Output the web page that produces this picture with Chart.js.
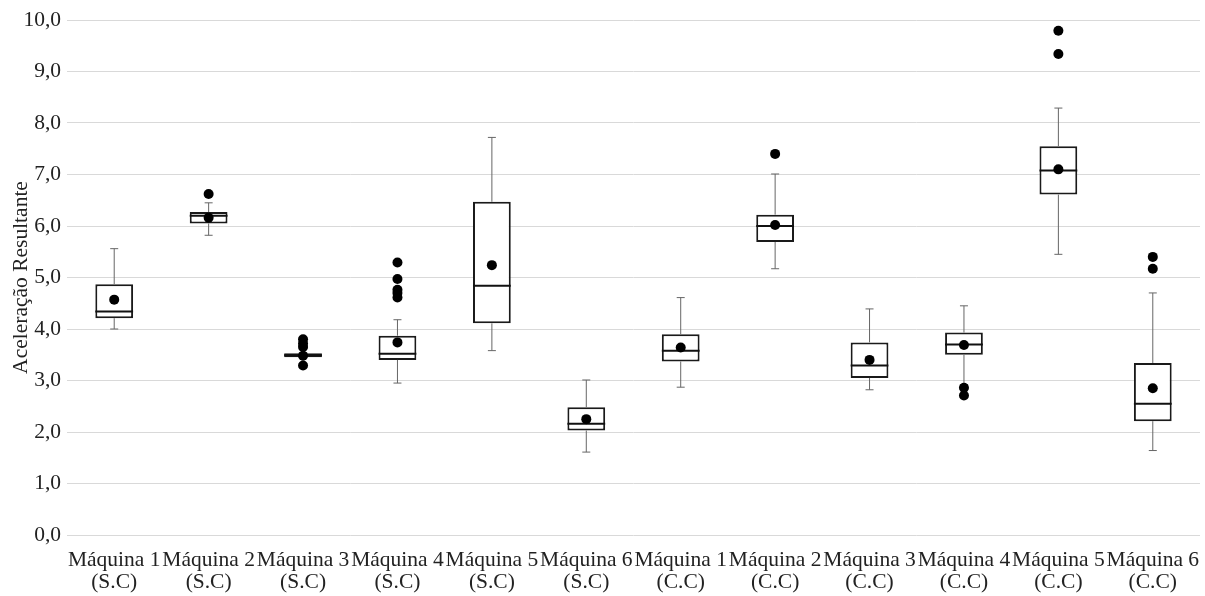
<!DOCTYPE html>
<html>
<head>
<meta charset="utf-8">
<script src="https://cdn.jsdelivr.net/npm/chart.js@4.4.1/dist/chart.umd.min.js"></script>
<style>
  html, body { margin: 0; padding: 0; background: #fff; }
  #wrap { width: 1205px; height: 596px; }
</style>
</head>
<body>
<div id="wrap"><canvas id="chart"></canvas></div>
<script>
// Categories
const machines = ["Máquina 1", "Máquina 2", "Máquina 3", "Máquina 4", "Máquina 5", "Máquina 6"];
const groups = ["(S.C)", "(C.C)"];
const labels = groups.flatMap(g => machines.map(m => [m, g]));

// Box plot values per category
const whiskerMin = [4.00, 5.82, 3.44, 2.95, 3.58, 1.61, 2.87, 5.17, 2.82, 2.92, 5.45, 1.64];
const q1         = [4.21, 6.05, 3.45, 3.40, 4.11, 2.03, 3.37, 5.69, 3.05, 3.50, 6.61, 2.21];
const median     = [4.34, 6.20, 3.49, 3.52, 4.84, 2.16, 3.58, 6.00, 3.29, 3.70, 7.08, 2.55];
const q3         = [4.87, 6.27, 3.53, 3.87, 6.47, 2.48, 3.90, 6.22, 3.74, 3.93, 7.55, 3.34];
const whiskerMax = [5.56, 6.45, 3.54, 4.18, 7.72, 3.01, 4.61, 7.01, 4.39, 4.45, 8.29, 4.70];
const mean       = [4.57, 6.16, 3.48, 3.74, 5.24, 2.25, 3.64, 6.02, 3.40, 3.69, 7.10, 2.85];
const outliers = [
  [], [6.62], [3.80, 3.72, 3.65, 3.29], [5.29, 4.97, 4.76, 4.70, 4.61], [], [],
  [], [7.40], [], [2.86, 2.71], [9.79, 9.34], [5.40, 5.17]
];

// Y axis ticks
const yTicks = [0, 1, 2, 3, 4, 5, 6, 7, 8, 9, 10];

Chart.defaults.font.family = "'Liberation Serif', 'Times New Roman', serif";
Chart.defaults.color = "#222";

// whiskers + median drawn right after the boxes
const whiskerPlugin = {
  id: "whiskers",
  afterDatasetDraw(chart, args) {
    if (args.index !== 0) return;
    const ctx = chart.ctx;
    const y = chart.scales.y;
    const meta = chart.getDatasetMeta(0);
    ctx.save();
    meta.data.forEach((bar, i) => {
      const cx = bar.x;
      const half = bar.width / 2;
      const yMin = y.getPixelForValue(whiskerMin[i]);
      const yMax = y.getPixelForValue(whiskerMax[i]);
      const yQ1 = y.getPixelForValue(q1[i]);
      const yQ3 = y.getPixelForValue(q3[i]);
      ctx.strokeStyle = "#666";
      ctx.lineWidth = 1;
      ctx.beginPath();
      ctx.moveTo(cx, yQ3); ctx.lineTo(cx, yMax);
      ctx.moveTo(cx - 4, yMax); ctx.lineTo(cx + 4, yMax);
      ctx.moveTo(cx, yQ1); ctx.lineTo(cx, yMin);
      ctx.moveTo(cx - 4, yMin); ctx.lineTo(cx + 4, yMin);
      ctx.stroke();
      // median
      const yMed = y.getPixelForValue(median[i]);
      ctx.strokeStyle = "#111";
      ctx.lineWidth = 2;
      ctx.beginPath();
      ctx.moveTo(cx - half, yMed); ctx.lineTo(cx + half, yMed);
      ctx.stroke();
    });
    ctx.restore();
  }
};

const dotStyle = {
  type: "line",
  showLine: false,
  pointRadius: 5,
  pointHoverRadius: 5,
  pointBackgroundColor: "#000",
  pointBorderWidth: 0,
  order: 1
};

const maxOut = Math.max(...outliers.map(o => o.length));
const outlierSets = [];
for (let k = 0; k < maxOut; k++) {
  outlierSets.push({
    ...dotStyle,
    label: "outlier " + (k + 1),
    data: outliers.map(o => (o.length > k ? o[k] : null))
  });
}

new Chart(document.getElementById("chart"), {
  type: "bar",
  data: {
    labels: labels,
    datasets: [
      {
        label: "box",
        data: q1.map((v, i) => [v, q3[i]]),
        backgroundColor: "#fff",
        borderColor: "#1a1a1a",
        borderWidth: 2,
        borderSkipped: false,
        barPercentage: 0.4,
        categoryPercentage: 1,
        order: 3
      },
      { ...dotStyle, label: "média", data: mean },
      ...outlierSets
    ]
  },
  options: {
    responsive: true,
    maintainAspectRatio: false,
    animation: false,
    layout: { padding: { left: 0, right: 3, top: 20, bottom: 0 } },
    plugins: { legend: { display: false }, tooltip: { enabled: false } },
    scales: {
      x: {
        grid: { display: false, drawTicks: false },
        border: { display: false },
        ticks: {
          padding: 15,
          autoSkip: false,
          maxRotation: 0,
          font: { size: 21.5, lineHeight: 1.0 },
          color: "#222"
        },
        afterFit: s => {
          s.height = 61;
          // labels may spill past the edges, keep the plot full width
          s.paddingLeft = 0;
          s.paddingRight = 0;
        }
      },
      y: {
        min: 0,
        max: 10,
        afterBuildTicks: s => { s.ticks = yTicks.map(v => ({ value: v })); },
        grid: { color: "#d9d9d9", lineWidth: 1, drawTicks: false },
        border: { display: false },
        ticks: {
          padding: 6,
          font: { size: 21.5 },
          color: "#222",
          callback: v => v.toFixed(1).replace(".", ",")
        },
        title: {
          display: true,
          text: "Aceleração Resultante",
          font: { size: 21.5 },
          color: "#222",
          padding: { top: 8, bottom: 0 }
        },
        afterFit: s => { s.width = 67; }
      }
    }
  },
  plugins: [whiskerPlugin]
});
</script>
</body>
</html>
